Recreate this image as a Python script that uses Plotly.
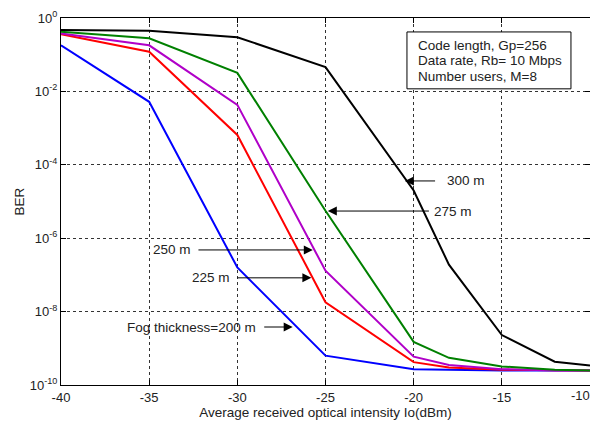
import plotly.graph_objects as go

# Data
x_vals = [-40, -35, -30, -25, -20, -18, -15, -12, -10]
ber_300 = [0.47, 0.45, 0.30, 0.046, 2.0e-5, 1.9e-7, 2.3e-9, 4.3e-10, 3.4e-10]
ber_275 = [0.42, 0.28, 0.032, 5.6e-6, 1.5e-9, 5.5e-10, 3.2e-10, 2.6e-10, 2.5e-10]
ber_250 = [0.38, 0.18, 0.0043, 1.3e-7, 5.9e-10, 3.5e-10, 2.7e-10, 2.5e-10, 2.5e-10]
ber_225 = [0.36, 0.12, 6.5e-4, 1.8e-8, 4.2e-10, 3.0e-10, 2.6e-10, 2.5e-10, 2.5e-10]
ber_200 = [0.18, 0.0052, 1.6e-7, 6.3e-10, 2.7e-10, 2.6e-10, 2.5e-10, 2.5e-10, 2.5e-10]

series_names = ["300 m", "275 m", "250 m", "225 m", "200 m"]
series_colors = ["#000000", "#008000", "#b000c8", "#ff0000", "#0000ff"]
series_data = [ber_300, ber_275, ber_250, ber_225, ber_200]

x_ticks = [-40, -35, -30, -25, -20, -15, -10]
x_tick_labels = ["-40", "-35", "-30", "-25", "-20", "-15", "-10"]
y_ticks = [1, 1e-2, 1e-4, 1e-6, 1e-8, 1e-10]
y_tick_labels = ["10<sup>0</sup>", "10<sup>-2</sup>", "10<sup>-4</sup>",
                 "10<sup>-6</sup>", "10<sup>-8</sup>", "10<sup>-10</sup>"]
info_lines = ["Code length, Gp=256", "Data rate, Rb= 10 Mbps", "Number users, M=8"]

FONT = "Liberation Sans, Arial, sans-serif"
TXT = "#222222"

fig = go.Figure()
for name, color, ys in zip(series_names[::-1], series_colors[::-1], series_data[::-1]):
    fig.add_trace(go.Scatter(x=x_vals, y=ys, mode="lines", name=name,
                             line=dict(color=color, width=2)))

axis_common = dict(showline=True, linecolor="black", linewidth=1, mirror="ticks",
                   ticks="inside", ticklen=5, tickcolor="black", automargin=False,
                   ticklabeloverflow="allow",
                   showgrid=True, gridcolor="#333333", griddash="dot", gridwidth=1,
                   zeroline=False, tickfont=dict(family=FONT, size=13, color=TXT))

# the last x label sits at the right edge; it is drawn as an annotation nudged inward
fig.update_xaxes(range=[-40, -10], tickvals=x_ticks,
                 ticktext=x_tick_labels[:-1] + [""],
                 title=dict(text="Average received optical intensity Io(dBm)",
                            font=dict(family=FONT, size=13.5, color=TXT), standoff=0),
                 **axis_common)
fig.add_annotation(x=x_ticks[-1], xref="x", y=0, yref="paper", text=x_tick_labels[-1],
                   showarrow=False, xanchor="right", yanchor="top", xshift=2, yshift=-1,
                   font=dict(family=FONT, size=13, color=TXT))
fig.update_yaxes(type="log", range=[-10, 0], tickvals=y_ticks, ticktext=y_tick_labels,
                 title=dict(text="BER", font=dict(family=FONT, size=13.5, color=TXT),
                            standoff=2),
                 **axis_common)

arrow_specs = [
    # (tip_x, tip_logy, tail_x, text, text_x, side)
    (-20.5, -4.44, -18.7, "300 m", -18.25, "left"),
    (-24.87, -5.26, -19.05, "275 m", -18.95, "left"),
    (-25.72, -6.32, -32.29, "250 m", -32.5, "right"),
    (-25.80, -7.08, -30.08, "225 m", -30.3, "right"),
    (-26.86, -8.42, -28.56, "Fog thickness=200 m", -28.8, "right"),
]
for tx, ty, ax, text, lx, side in arrow_specs:
    fig.add_annotation(x=tx, y=ty, ax=ax, ay=ty, xref="x", yref="y", axref="x", ayref="y",
                       text="", showarrow=True, arrowhead=2, arrowsize=1.8, arrowwidth=1,
                       arrowcolor="black")
    fig.add_annotation(x=lx, y=ty, xref="x", yref="y", text=text, showarrow=False,
                       xanchor=side, yanchor="middle",
                       font=dict(family=FONT, size=13.5, color=TXT))

fig.add_shape(type="rect", xref="paper", yref="paper", x0=0.654, x1=0.964, y0=0.807, y1=0.962,
              line=dict(color="black", width=1), fillcolor="white", layer="above")
for i, line in enumerate(info_lines):
    fig.add_annotation(xref="paper", yref="paper", x=0.671, y=0.926 - i * 0.0425,
                       xanchor="left", yanchor="middle", showarrow=False, text=line,
                       font=dict(family=FONT, size=13.5, color=TXT))

# page body has an 8px default margin, so the figure is sized to fit the 598x425 window
fig.update_layout(width=590, height=417, margin=dict(l=53, r=8, t=10, b=40),
                  paper_bgcolor="white", plot_bgcolor="white", showlegend=False,
                  font=dict(family=FONT, size=13))

fig.write_html("out.html")
